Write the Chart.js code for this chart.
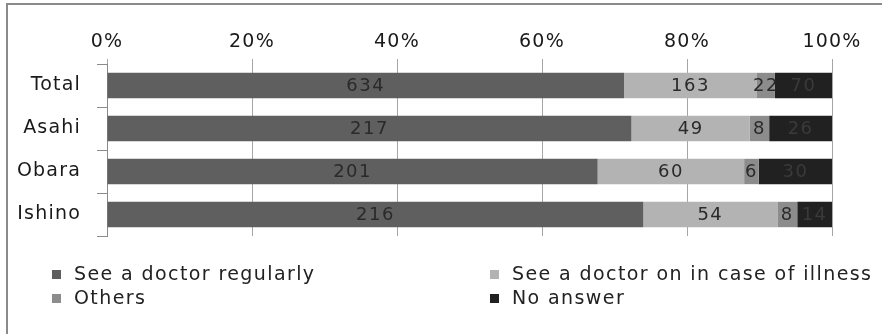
<!DOCTYPE html>
<html>
<head>
<meta charset="utf-8">
<script src="https://cdn.jsdelivr.net/npm/chart.js@4"></script>
<style>
    html, body { margin: 0; padding: 0; background: #fff; }
    #wrap { position: relative; width: 882px; height: 334px; overflow: hidden; }
    #frame { position: absolute; left: 6px; top: 3px; width: 900px; height: 400px;
             border-left: 2px solid #8a8a8a; border-top: 2px solid #8a8a8a; }
    #chart { position: absolute; left: 0; top: 0; }
    .legend-item { position: absolute; font-family: "DejaVu Sans", sans-serif; font-size: 19px;
                   letter-spacing: 1.4px; color: #222; white-space: nowrap; line-height: 24px; }
    .legend-item span.box { display: inline-block; width: 9px; height: 9px; margin-right: 13px;
                            vertical-align: 1px; }
</style>
</head>
<body>
<div id="wrap">
    <div id="frame"></div>
    <canvas id="chart" width="882" height="334"></canvas>
    <div id="legend"></div>
</div>
<script>
const categories = ['Total', 'Asahi', 'Obara', 'Ishino'];
const seriesNames = ['See a doctor regularly', 'See a doctor on in case of illness', 'Others', 'No answer'];
const regularly = [634, 217, 201, 216];
const whenIll = [163, 49, 60, 54];
const others = [22, 8, 6, 8];
const noAnswer = [70, 26, 30, 14];
const xTicks = ['0%', '20%', '40%', '60%', '80%', '100%'];

const seriesColors = ['#5f5f5f', '#b3b3b3', '#8c8c8c', '#212121'];
const legendPos = [[52, 261], [490, 261], [52, 285], [490, 285]];

const allSeries = [regularly, whenIll, others, noAnswer];
const totals = categories.map((c, i) => allSeries.reduce((s, arr) => s + arr[i], 0));

const datasets = allSeries.map((arr, idx) => ({
    label: seriesNames[idx],
    data: arr.map((v, i) => v / totals[i] * 100),
    counts: arr,
    backgroundColor: seriesColors[idx],
    borderWidth: 0,
    categoryPercentage: 1,
    barPercentage: 0.59
}));

// wider text, the original is stretched sideways
const textSpacing = {
    id: 'textSpacing',
    beforeDraw(chart) {
        chart.ctx.letterSpacing = '1.2px';
    }
};

const valueLabels = {
    id: 'valueLabels',
    afterDatasetsDraw(chart) {
        const ctx = chart.ctx;
        ctx.save();
        ctx.letterSpacing = '1.5px';
        ctx.font = '18px "DejaVu Sans", sans-serif';
        ctx.textAlign = 'center';
        ctx.textBaseline = 'middle';
        chart.data.datasets.forEach((ds, di) => {
            const meta = chart.getDatasetMeta(di);
            meta.data.forEach((bar, i) => {
                const cx = (bar.x + bar.base) / 2;
                ctx.fillStyle = di === 3 ? '#3a3a3a' : '#2a2a2a';
                ctx.fillText(String(ds.counts[i]), cx, bar.y + 1);
            });
        });
        ctx.restore();
    }
};

const ctx = document.getElementById('chart').getContext('2d');
new Chart(ctx, {
    type: 'bar',
    data: { labels: categories, datasets: datasets },
    options: {
        indexAxis: 'y',
        responsive: false,
        animation: false,
        layout: { padding: { left: 0, right: 50, top: 0, bottom: 98 } },
        plugins: {
            legend: { display: false },
            tooltip: { enabled: false }
        },
        scales: {
            x: {
                position: 'top',
                stacked: true,
                min: 0,
                max: 100,
                afterFit: (scale) => { scale.height = 64; },
                afterBuildTicks: (scale) => {
                    scale.ticks = xTicks.map((t, i) => ({ value: i * 20 }));
                },
                ticks: {
                    callback: (v, i) => xTicks[i],
                    font: { family: '"DejaVu Sans", sans-serif', size: 19 },
                    color: '#1a1a1a',
                    padding: 6,
                    maxRotation: 0
                },
                grid: { color: '#a6a6a6', lineWidth: 1, tickLength: 5 },
                border: { display: false }
            },
            y: {
                stacked: true,
                afterFit: (scale) => { scale.width = 107; },
                ticks: {
                    font: { family: '"DejaVu Sans", sans-serif', size: 19 },
                    color: '#1a1a1a',
                    padding: 16
                },
                grid: { drawOnChartArea: false, offset: true, tickLength: 10, color: '#8a8a8a' },
                border: { display: true, color: '#8a8a8a', width: 1 }
            }
        }
    },
    plugins: [textSpacing, valueLabels]
});

const legend = document.getElementById('legend');
seriesNames.forEach((name, i) => {
    const item = document.createElement('div');
    item.className = 'legend-item';
    item.style.left = legendPos[i][0] + 'px';
    item.style.top = legendPos[i][1] + 'px';
    item.innerHTML = `<span class="box" style="background:${seriesColors[i]}"></span>${name}`;
    legend.appendChild(item);
});
</script>
</body>
</html>
